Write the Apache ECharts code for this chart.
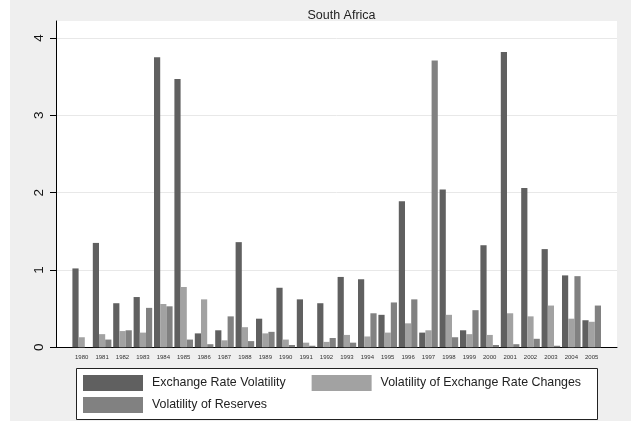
<!DOCTYPE html>
<html>
<head>
<meta charset="utf-8">
<script src="https://cdn.jsdelivr.net/npm/echarts@6/dist/echarts.min.js"></script>
<style>
  html, body { margin: 0; padding: 0; background: #fff; }
  #chart { width: 631px; height: 421px; }
</style>
</head>
<body>
<div id="chart"></div>
<script>
// Years on the category axis
const years = ['1980','1981','1982','1983','1984','1985','1986','1987','1988','1989',
  '1990','1991','1992','1993','1994','1995','1996','1997','1998','1999',
  '2000','2001','2002','2003','2004','2005'];

// Series values
const exchangeRateVolatility = [1.02, 1.35, 0.57, 0.65, 3.75, 3.47, 0.18, 0.22, 1.36, 0.37,
  0.77, 0.62, 0.57, 0.91, 0.88, 0.42, 1.89, 0.19, 2.04, 0.22,
  1.32, 3.82, 2.06, 1.27, 0.93, 0.35];
const volExchangeRateChanges = [0.13, 0.17, 0.21, 0.19, 0.56, 0.78, 0.62, 0.09, 0.26, 0.18,
  0.10, 0.06, 0.07, 0.16, 0.14, 0.19, 0.31, 0.22, 0.42, 0.17,
  0.16, 0.44, 0.40, 0.54, 0.37, 0.33];
const volReserves = [0, 0.10, 0.22, 0.51, 0.53, 0.10, 0.04, 0.40, 0.08, 0.20,
  0.03, 0.02, 0.12, 0.06, 0.44, 0.58, 0.62, 3.71, 0.13, 0.48,
  0.03, 0.04, 0.11, 0.02, 0.92, 0.54];

// Y axis ticks
const yTicks = [0, 1, 2, 3, 4];
const yMax = 4.22;

const seriesNames = ['Exchange Rate Volatility', 'Volatility of Exchange Rate Changes', 'Volatility of Reserves'];
const seriesColors = ['#606060', '#a2a2a2', '#818181'];
const FONT = '"Liberation Sans", Arial, sans-serif';

const chart = echarts.init(document.getElementById('chart'), null, { renderer: 'canvas' });

// Outer frame (white plot region) and the narrower band that holds the bars
const frame = { left: 56, right: 14, top: 21, bottom: 73.7 };
const barArea = { left: 71.5, right: 29.1, top: 21, bottom: 73.7 };

chart.setOption({
  animation: false,
  backgroundColor: '#efefef',
  textStyle: { fontFamily: FONT },
  title: {
    text: 'South Africa',
    left: 336.5,
    top: 4,
    textAlign: 'center',
    textStyle: { fontSize: 12.5, fontWeight: 'normal', color: '#222', fontFamily: FONT }
  },
  graphic: [
    { type: 'rect', z: 100, shape: { x: 0, y: 0, width: 10, height: 421 }, style: { fill: '#ffffff' } },
    { type: 'rect', z: 1, shape: { x: 76.5, y: 368.5, width: 521, height: 51 },
      style: { fill: '#ffffff', stroke: '#222', lineWidth: 1 } }
  ],
  legend: [
    {
      data: [seriesNames[0], seriesNames[1]],
      left: 83, top: 375, padding: 0, z: 5,
      itemWidth: 60, itemHeight: 16, itemGap: 26,
      icon: 'rect', selectedMode: false,
      textStyle: { fontSize: 12.4, color: '#222', fontFamily: FONT, padding: [0, 0, 0, 4] }
    },
    {
      data: [seriesNames[2]],
      left: 83, top: 397, padding: 0, z: 5,
      itemWidth: 60, itemHeight: 16,
      icon: 'rect', selectedMode: false,
      textStyle: { fontSize: 12.4, color: '#222', fontFamily: FONT, padding: [0, 0, 0, 4] }
    }
  ],
  grid: [
    Object.assign({ show: true, backgroundColor: '#ffffff', borderWidth: 0 }, frame),
    Object.assign({}, barArea)
  ],
  xAxis: [
    {
      gridIndex: 0, type: 'value', min: 0, max: 1,
      axisLine: { show: true, lineStyle: { color: '#000', width: 1 } },
      axisTick: { show: false }, axisLabel: { show: false }, splitLine: { show: false }
    },
    {
      gridIndex: 1, type: 'category', data: years,
      axisLine: { show: false }, axisTick: { show: false },
      axisLabel: { fontSize: 6, color: '#333', margin: 7, interval: 0, fontFamily: FONT }
    }
  ],
  yAxis: [
    {
      gridIndex: 0, type: 'value', min: 0, max: yMax, interval: 1,
      axisLine: { show: true, lineStyle: { color: '#000', width: 1 } },
      axisTick: { show: true, length: 6, customValues: yTicks, lineStyle: { color: '#000' } },
      axisLabel: { rotate: 90, fontSize: 13.5, color: '#111', margin: 10, customValues: yTicks, fontFamily: FONT },
      splitLine: { show: true, lineStyle: { color: '#e8e8e8', width: 1 } }
    },
    {
      gridIndex: 1, type: 'value', min: 0, max: yMax, interval: 1,
      axisLine: { show: false }, axisTick: { show: false },
      axisLabel: { show: false }, splitLine: { show: false }
    }
  ],
  series: [
    { name: seriesNames[0], type: 'bar', xAxisIndex: 1, yAxisIndex: 1, data: exchangeRateVolatility,
      barWidth: 6.2, barGap: '0%', itemStyle: { color: seriesColors[0] } },
    { name: seriesNames[1], type: 'bar', xAxisIndex: 1, yAxisIndex: 1, data: volExchangeRateChanges,
      barWidth: 6.2, barGap: '0%', itemStyle: { color: seriesColors[1] } },
    { name: seriesNames[2], type: 'bar', xAxisIndex: 1, yAxisIndex: 1, data: volReserves,
      barWidth: 6.2, barGap: '0%', itemStyle: { color: seriesColors[2] } }
  ]
});
</script>
</body>
</html>
